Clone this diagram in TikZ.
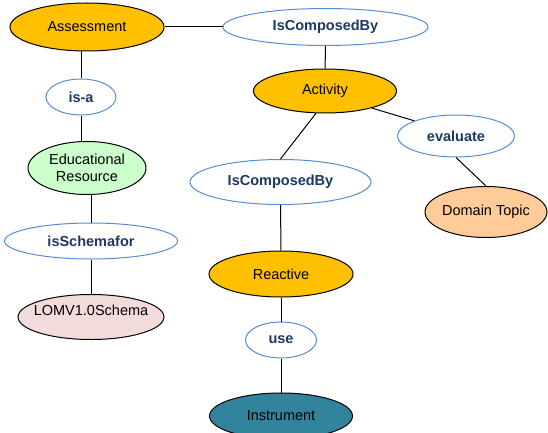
\documentclass[tikz,border=0pt]{standalone}
\usepackage{fontspec}
\setmainfont{Liberation Sans}
\usetikzlibrary{shapes.geometric}
\definecolor{orng}{HTML}{FFC000}
\definecolor{lgreen}{HTML}{CCFFCC}
\definecolor{peach}{HTML}{FFCC99}
\definecolor{lpink}{HTML}{F2DCDB}
\definecolor{teal2}{HTML}{31849B}
\definecolor{relblue}{HTML}{558ED5}
\definecolor{relnavy}{HTML}{1F3864}
\begin{document}
\begin{tikzpicture}[x=1pt,y=-1pt,
  base/.style={ellipse, inner sep=0pt, line width=1pt, align=center,
    font=\fontsize{14.5}{17}\selectfont},
  cls/.style={base, draw=black, text=black},
  rel/.style={base, draw=relblue, fill=white, text=relnavy,
    font=\fontsize{14.5}{17}\selectfont\bfseries},
  link/.style={draw=black, line width=1pt}]
\useasboundingbox (0,0) rectangle (548,433);
\clip (0,0) rectangle (548,433);
\fill[white] (0,0) rectangle (548,433);
\node[cls, fill=orng, minimum width=154pt, minimum height=48pt] (ass) at (87,27) {Assessment};
\node[rel, minimum width=205pt, minimum height=37pt] (icb1) at (325.5,27) {IsComposedBy};
\node[rel, minimum width=70pt, minimum height=36pt] (isa) at (81,97) {is-a};
\node[cls, fill=orng, minimum width=143pt, minimum height=44pt] (act) at (325,91) {Activity};
\node[rel, minimum width=117pt, minimum height=42pt] (eval) at (456,136) {evaluate};
\node[cls, fill=lgreen, minimum width=118pt, minimum height=53pt] (edres) at (87,168) {Educational\\Resource};
\node[rel, minimum width=181pt, minimum height=45pt] (icb2) at (280.5,182) {IsComposedBy};
\node[cls, fill=peach, minimum width=122pt, minimum height=51pt] (dom) at (486,212) {\makebox[0pt]{Domain Topic}};
\node[rel, minimum width=173pt, minimum height=36pt] (schema) at (91,241) {isSchemafor};
\node[cls, fill=orng, minimum width=144pt, minimum height=46pt] (react) at (281,274) {Reactive};
\node[cls, fill=lpink, minimum width=146pt, minimum height=45pt] (lom) at (91,317) {\raisebox{2pt}[0pt][0pt]{\makebox[0pt]{LOMV1.0Schema}}};
\node[rel, minimum width=71pt, minimum height=36pt] (use) at (281,340) {use};
\node[cls, fill=teal2, minimum width=143pt, minimum height=46pt] (instr) at (281,416) {Instrument};

\draw[link] (ass) -- (icb1);
\draw[link] (icb1) -- (act);
\draw[link] (act.340) -- (eval.160);
\draw[link] (eval.south) -- (dom.north);
\draw[link] (act.248) -- (icb2.north);
\draw[link] (icb2) -- (react);
\draw[link] (react) -- (use);
\draw[link] (use) -- (instr);
\draw[link] (isa) -- (isa |- ass.south);
\draw[link] (isa) -- (isa |- edres.north);
\draw[link] (schema) -- (schema |- edres.south);
\draw[link] (schema) -- (lom);
\end{tikzpicture}
\end{document}
